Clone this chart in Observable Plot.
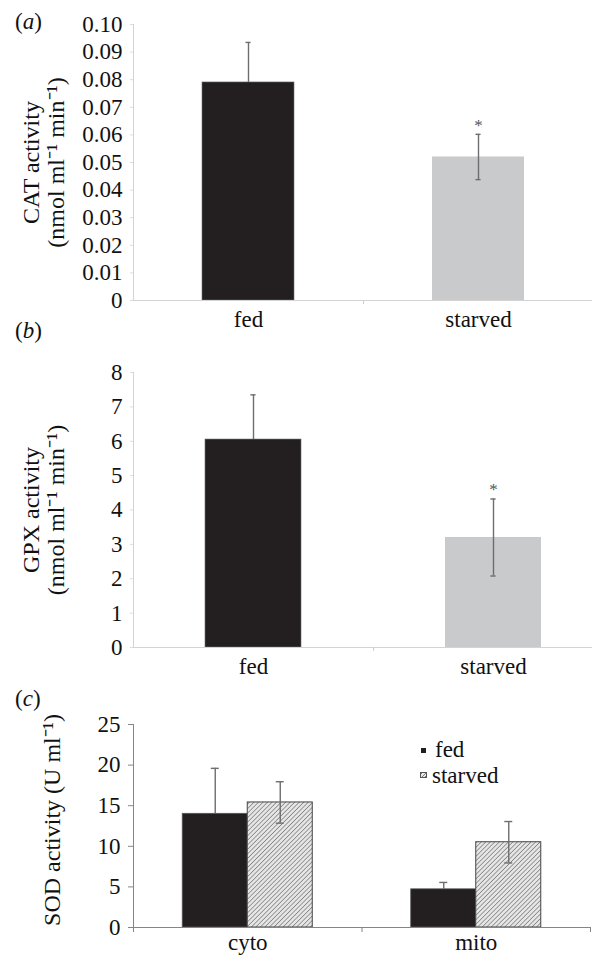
<!DOCTYPE html>
<html><head><meta charset="utf-8">
<script src="https://cdn.jsdelivr.net/npm/d3@7"></script>
<script src="https://cdn.jsdelivr.net/npm/@observablehq/plot@0.6"></script>
<style>
body{margin:0;background:#fff;}
#wrap{position:relative;width:592px;height:955px;font-family:"Liberation Serif","Times New Roman",serif;color:#111;overflow:hidden;background:#fff;}
#wrap svg{position:absolute;left:0;font-family:"Liberation Serif","Times New Roman",serif;}
#wrap svg text{font-family:"Liberation Serif","Times New Roman",serif;}
.lab{position:absolute;left:15px;font-size:23px;line-height:1;white-space:nowrap;}
.leg{position:absolute;font-size:23px;line-height:1;white-space:nowrap;}
.sw{position:absolute;width:5px;height:5px;}
</style></head><body><div id="wrap"></div>
<script>
// ---- data ----
const abCategories = ["fed", "starved"];
const catMean = [0.079, 0.052];
const catSE = [0.0145, 0.0082];
const catTicks = [0, 0.01, 0.02, 0.03, 0.04, 0.05, 0.06, 0.07, 0.08, 0.09, 0.10];
const gpxMean = [6.05, 3.2];
const gpxSE = [1.3, 1.12];
const gpxTicks = [0, 1, 2, 3, 4, 5, 6, 7, 8];
const sodSites = ["cyto", "mito"];
const sodConditions = ["fed", "starved"];
const sodFed = [14.0, 4.7];
const sodFedSE = [5.6, 0.85];
const sodStarved = [15.4, 10.5];
const sodStarvedSE = [2.55, 2.55];
const sodTicks = [0, 5, 10, 15, 20, 25];

const FONT = "Liberation Serif, Times New Roman, serif";
const wrap = document.getElementById("wrap");

function simplePanel({cats, mean, se, ticks, fmt, ylabel, top, height, marginTop, marginBottom, xEnd}) {
  const data = cats.map((c, i) => ({c, i, m: mean[i], s: se[i]}));
  const hw = 0.2, cap = 0.011;
  const fed = data.filter(d => d.i === 0), stv = data.filter(d => d.i === 1);
  const chart = Plot.plot({
    width: 592, height, marginTop, marginBottom, marginLeft: 133, marginRight: 0,
    style: {fontFamily: FONT, fontSize: "23px", background: "transparent", color: "#111"},
    x: {domain: [0, 2], range: [133, xEnd]},
    y: {domain: [0, ticks[ticks.length - 1]]},
    marks: [
      Plot.rectY(fed, {x1: d => d.i + 0.5 - hw, x2: d => d.i + 0.5 + hw, y1: 0, y2: d => d.m, fill: "#231f20", stroke: "#6d6e71", strokeWidth: 0.6}),
      Plot.rectY(stv, {x1: d => d.i + 0.5 - hw, x2: d => d.i + 0.5 + hw, y1: 0, y2: d => d.m, fill: "#c9cacc"}),
      Plot.ruleX(fed, {x: d => d.i + 0.5, y1: d => d.m, y2: d => d.m + d.s, stroke: "#6d6e71", strokeWidth: 1.4}),
      Plot.ruleX(stv, {x: d => d.i + 0.5, y1: d => d.m - d.s, y2: d => d.m + d.s, stroke: "#6d6e71", strokeWidth: 1.4}),
      Plot.ruleY(data, {y: d => d.m + d.s, x1: d => d.i + 0.5 - cap, x2: d => d.i + 0.5 + cap, stroke: "#6d6e71", strokeWidth: 1.4}),
      Plot.ruleY(stv, {y: d => d.m - d.s, x1: d => d.i + 0.5 - cap, x2: d => d.i + 0.5 + cap, stroke: "#6d6e71", strokeWidth: 1.4}),
      Plot.text(stv, {x: d => d.i + 0.5, y: d => d.m + d.s, text: () => "*", dy: -9, fontSize: 17, fontFamily: FONT, fill: "#555"}),
      Plot.ruleX([0], {stroke: "#d4d4d4"}),
      Plot.ruleY([0], {stroke: "#d4d4d4"}),
      Plot.axisY({ticks, tickFormat: fmt, tickSize: 3, tickPadding: 8, stroke: "#dcdcdc", fill: "#111", fontSize: 23, fontFamily: FONT}),
      Plot.axisX({ticks: cats.map((c, i) => i + 0.5), tickFormat: d => cats[Math.floor(d)], tickSize: 0, tickPadding: 10, fill: "#111", fontSize: 23, fontFamily: FONT}),
      Plot.axisX({ticks: [1], tickFormat: () => "", tickSize: 4, stroke: "#cfcfcf"}),
      Plot.text([ylabel], {frameAnchor: "left", textAnchor: "middle", lineAnchor: "middle", rotate: -90, dx: -90, fontSize: 24, fontFamily: FONT, lineHeight: 1.05, fill: "#111"})
    ]
  });
  chart.style.top = top + "px";
  wrap.appendChild(chart);
}

simplePanel({cats: abCategories, mean: catMean, se: catSE, ticks: catTicks,
  fmt: d => d === 0 ? "0" : d.toFixed(2), ylabel: "CAT activity\n(nmol ml\u207B\u00B9 min\u207B\u00B9)",
  top: 0, height: 335, marginTop: 24, marginBottom: 35, xEnd: 593});
simplePanel({cats: abCategories, mean: gpxMean, se: gpxSE, ticks: gpxTicks,
  fmt: d => String(d), ylabel: "GPX activity\n(nmol ml\u207B\u00B9 min\u207B\u00B9)",
  top: 335, height: 345, marginTop: 37, marginBottom: 33, xEnd: 613});

// panel c
(function () {
  const data = sodSites.map((s, i) => ({s, i, f: sodFed[i], fs: sodFedSE[i], v: sodStarved[i], vs: sodStarvedSE[i]}));
  const bw = 0.2845, cap = 0.0175;
  const chart = Plot.plot({
    width: 592, height: 275, marginTop: 44, marginBottom: 28, marginLeft: 133, marginRight: 2,
    style: {fontFamily: FONT, fontSize: "23px", background: "transparent", color: "#111"},
    x: {domain: [0, 2], range: [133, 590]},
    y: {domain: [0, 25]},
    marks: [
      Plot.rectY(data, {x1: d => d.i + 0.5 - bw, x2: d => d.i + 0.5, y1: 0, y2: d => d.f, fill: "#231f20", stroke: "#555", strokeWidth: 0.8}),
      Plot.rectY(data, {x1: d => d.i + 0.5, x2: d => d.i + 0.5 + bw, y1: 0, y2: d => d.v, fill: "url(#sodhatch)", stroke: "#444", strokeWidth: 1}),
      Plot.ruleX(data, {x: d => d.i + 0.5 - bw / 2, y1: d => d.f, y2: d => d.f + d.fs, stroke: "#6d6e71", strokeWidth: 1.4}),
      Plot.ruleY(data, {y: d => d.f + d.fs, x1: d => d.i + 0.5 - bw / 2 - cap, x2: d => d.i + 0.5 - bw / 2 + cap, stroke: "#6d6e71", strokeWidth: 1.4}),
      Plot.ruleX(data, {x: d => d.i + 0.5 + bw / 2, y1: d => d.v - d.vs, y2: d => d.v + d.vs, stroke: "#6d6e71", strokeWidth: 1.4}),
      Plot.ruleY(data, {y: d => d.v + d.vs, x1: d => d.i + 0.5 + bw / 2 - cap, x2: d => d.i + 0.5 + bw / 2 + cap, stroke: "#6d6e71", strokeWidth: 1.4}),
      Plot.ruleY(data, {y: d => d.v - d.vs, x1: d => d.i + 0.5 + bw / 2 - cap, x2: d => d.i + 0.5 + bw / 2 + cap, stroke: "#6d6e71", strokeWidth: 1.4}),
      Plot.ruleX([0], {stroke: "#858585"}),
      Plot.ruleY([0], {stroke: "#858585"}),
      Plot.axisY({ticks: sodTicks, tickFormat: d => String(d), tickSize: 5, tickPadding: 8, stroke: "#858585", fill: "#111", fontSize: 23, fontFamily: FONT}),
      Plot.axisX({ticks: sodSites.map((s, i) => i + 0.5), tickFormat: d => sodSites[Math.floor(d)], tickSize: 0, tickPadding: 6, fill: "#111", fontSize: 23, fontFamily: FONT}),
      Plot.axisX({ticks: [0, 1, 2], tickFormat: () => "", tickSize: 5, stroke: "#858585"}),
      Plot.text(["SOD activity (U ml\u207B\u00B9)"], {frameAnchor: "left", textAnchor: "middle", lineAnchor: "middle", rotate: -90, dx: -81, dy: -6, fontSize: 24, fontFamily: FONT, fill: "#111"})
    ]
  });
  const ns = "http://www.w3.org/2000/svg";
  const defs = document.createElementNS(ns, "defs");
  defs.innerHTML = '<pattern id="sodhatch" patternUnits="userSpaceOnUse" width="3.2" height="3.2" patternTransform="rotate(45)"><rect width="3.2" height="3.2" fill="#e6e6e6"/><line x1="0" y1="0" x2="0" y2="3.2" stroke="#707070" stroke-width="1.3"/></pattern>';
  chart.insertBefore(defs, chart.firstChild);
  chart.style.top = "680px";
  wrap.appendChild(chart);
})();

// panel labels and legend (HTML text)
function addLabel(letter, top) {
  const d = document.createElement("div");
  d.className = "lab"; d.style.top = top + "px";
  d.innerHTML = "(<i>" + letter + "</i>)";
  wrap.appendChild(d);
}
addLabel("a", 10); addLabel("b", 319); addLabel("c", 687);

function addLegend(text, swatchTop, textLeft, textTop, style) {
  const s = document.createElement("div");
  s.className = "sw"; s.style.left = "421px"; s.style.top = swatchTop + "px";
  Object.assign(s.style, style);
  wrap.appendChild(s);
  const t = document.createElement("div");
  t.className = "leg"; t.style.left = textLeft + "px"; t.style.top = textTop + "px";
  t.textContent = text;
  wrap.appendChild(t);
}
addLegend(sodConditions[0], 748, 435, 738, {background: "#231f20"});
addLegend(sodConditions[1], 773, 432, 764, {background: "repeating-linear-gradient(-45deg,#7a7a7a 0 1px,#e8e8e8 1px 2.5px)", outline: "1px solid #555", width: "5px", height: "4px"});
</script></body></html>
